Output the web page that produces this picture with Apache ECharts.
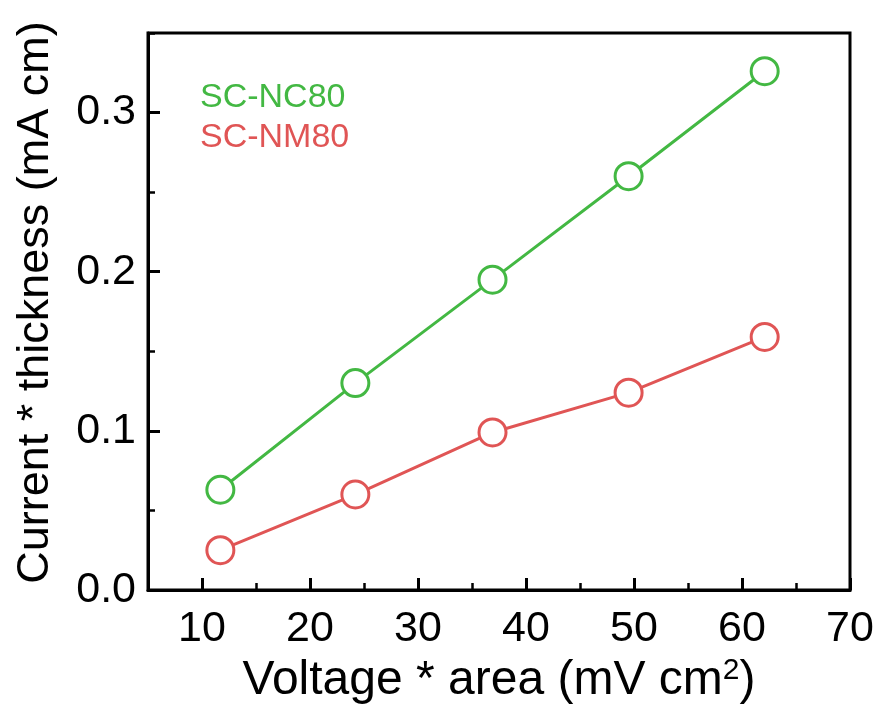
<!DOCTYPE html>
<html><head><meta charset="utf-8">
<script src="https://cdn.jsdelivr.net/npm/echarts@6/dist/echarts.min.js"></script>
<style>html,body{margin:0;padding:0;background:#fff}#c{width:880px;height:711px}</style>
</head><body><div id="c"></div>
<script>
const seriesNames = ['SC-NC80', 'SC-NM80'];
const xNC = [11.7, 24.2, 36.9, 49.5, 62.1];
const yNC = [0.063, 0.130, 0.195, 0.260, 0.326];
const xNM = [11.7, 24.2, 36.9, 49.5, 62.1];
const yNM = [0.025, 0.060, 0.099, 0.124, 0.159];
const xTicks = [10, 20, 30, 40, 50, 60, 70];
const yTicks = [0, 0.1, 0.2, 0.3];
const colors = ['#43b843', '#e05555'];
const FONT = 'Liberation Sans, Arial, sans-serif';

const chart = echarts.init(document.getElementById('c'));
const pairs = (xs, ys) => xs.map((x, i) => [x, ys[i]]);
chart.setOption({
  animation: false,
  grid: {left: 148, right: 30, top: 33, bottom: 121, show: true, borderColor: '#000', borderWidth: 3,
    backgroundColor: 'transparent', outerBoundsMode: 'none', containLabel: false},
  legend: {
    orient: 'vertical', left: 190, top: 76, icon: 'none', itemWidth: 0, itemHeight: 34, itemGap: 6,
    textStyle: {fontSize: 34, fontFamily: FONT},
    data: seriesNames.map((n, i) => ({name: n, textStyle: {color: colors[i]}}))
  },
  xAxis: [{
    type: 'value', min: 5, max: 70,
    name: 'Voltage * area (mV cm{sup|2})', nameLocation: 'middle', nameGap: 60,
    nameTextStyle: {fontSize: 48, fontFamily: FONT, color: '#000',
      rich: {sup: {fontSize: 30, fontFamily: FONT, color: '#000', verticalAlign: 'top', padding: [0, 0, 20, 0]}}},
    axisLine: {lineStyle: {color: '#000', width: 3}},
    axisTick: {inside: true, length: 12, customValues: xTicks, lineStyle: {color: '#000', width: 3}},
    axisLabel: {customValues: xTicks, fontSize: 43, fontFamily: FONT, color: '#000', margin: 18},
    splitLine: {show: false}
  }, {
    type: 'value', min: 5, max: 70, interval: 5, position: 'bottom',
    axisLine: {show: false},
    axisTick: {inside: true, length: 7, lineStyle: {color: '#000', width: 2.5}},
    axisLabel: {show: false}, splitLine: {show: false}
  }],
  yAxis: [{
    type: 'value', min: 0, max: 0.35,
    name: 'Current * thickness (mA cm)', nameLocation: 'middle', nameGap: 90,
    nameTextStyle: {fontSize: 45, fontFamily: FONT, color: '#000', padding: [0, 0, 0, 18]},
    axisLine: {lineStyle: {color: '#000', width: 3}},
    axisTick: {inside: true, length: 12, customValues: yTicks, lineStyle: {color: '#000', width: 3}},
    axisLabel: {customValues: yTicks, fontSize: 43, fontFamily: FONT, color: '#000', margin: 12,
      formatter: v => v.toFixed(1)},
    splitLine: {show: false}
  }, {
    type: 'value', min: 0, max: 0.35, interval: 0.05, position: 'left',
    axisLine: {show: false},
    axisTick: {inside: true, length: 7, lineStyle: {color: '#000', width: 2.5}},
    axisLabel: {show: false}, splitLine: {show: false}
  }],
  series: [
    {name: seriesNames[0], type: 'line', data: pairs(xNC, yNC), symbol: 'circle', symbolSize: 27,
      itemStyle: {color: '#fff', borderColor: colors[0], borderWidth: 3},
      lineStyle: {color: colors[0], width: 3}},
    {name: seriesNames[1], type: 'line', data: pairs(xNM, yNM), symbol: 'circle', symbolSize: 27,
      itemStyle: {color: '#fff', borderColor: colors[1], borderWidth: 3},
      lineStyle: {color: colors[1], width: 3}}
  ]
});
</script></body></html>
